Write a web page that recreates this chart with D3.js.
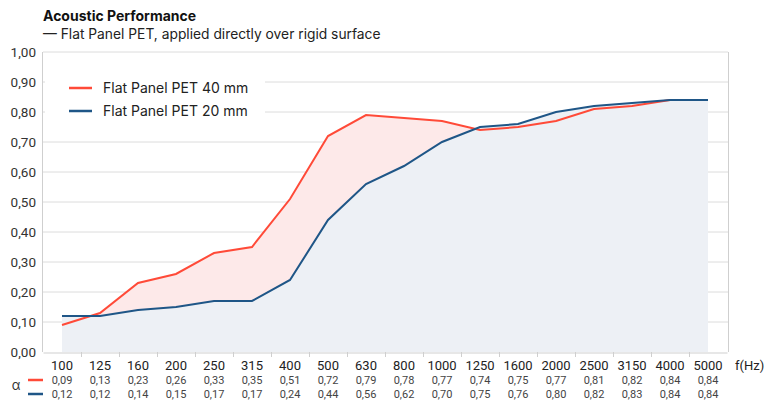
<!DOCTYPE html>
<html>
<head>
<meta charset="utf-8">
<script src="https://cdn.jsdelivr.net/npm/d3@7"></script>
<style>
  body { margin: 0; background: #fff; }
  text { font-family: Inter, "Noto Sans", sans-serif; }
  .num { font-family: Roboto, Inter, sans-serif; }
</style>
</head>
<body>
<script>
// data
const freqs = ["100","125","160","200","250","315","400","500","630","800","1000","1250","1600","2000","2500","3150","4000","5000"];
const pet40 = [0.09,0.13,0.23,0.26,0.33,0.35,0.51,0.72,0.79,0.78,0.77,0.74,0.75,0.77,0.81,0.82,0.84,0.84];
const pet20 = [0.12,0.12,0.14,0.15,0.17,0.17,0.24,0.44,0.56,0.62,0.70,0.75,0.76,0.80,0.82,0.83,0.84,0.84];
const seriesNames = ["Flat Panel PET 40 mm", "Flat Panel PET 20 mm"];
const yTicks = [0,0.1,0.2,0.3,0.4,0.5,0.6,0.7,0.8,0.9,1.0];

const red = "#ff4a38", blue = "#1f5687";
const width = 765, height = 400;
const fmt = v => v.toFixed(2).replace(".", ",");

const svg = d3.select("body").append("svg")
  .attr("width", width).attr("height", height);

const x = d3.scaleBand().domain(freqs).range([43, 727]).padding(0);
const y = d3.scaleLinear().domain([0, 1]).range([352, 52]);
const cx = d => x(d) + x.bandwidth() / 2;

// title
svg.append("text").attr("x", 43).attr("y", 21)
  .attr("font-size", 14).attr("font-weight", 700).attr("fill", "#111")
  .text("Acoustic Performance");
svg.append("text").attr("x", 43).attr("y", 38.5)
  .attr("font-size", 13.8).attr("fill", "#222")
  .text("— Flat Panel PET, applied directly over rigid surface");

// grid
svg.append("g").selectAll("line")
  .data(yTicks.slice(1))
  .enter().append("line")
    .attr("x1", 43).attr("x2", 728)
    .attr("y1", d => y(d)).attr("y2", d => y(d))
    .attr("stroke", "#dcdcdc").attr("stroke-width", 1);

// areas
const area = d3.area().x((d, i) => cx(freqs[i])).y0(y(0)).y1(d => y(d));
svg.append("path").datum(pet40).attr("d", area).attr("fill", "#fde9e9");
svg.append("path").datum(pet20).attr("d", area).attr("fill", "#edf0f5");

// lines
const line = d3.line().x((d, i) => cx(freqs[i])).y(d => y(d));
svg.append("path").datum(pet40).attr("d", line)
  .attr("fill", "none").attr("stroke", red).attr("stroke-width", 2);
svg.append("path").datum(pet20).attr("d", line)
  .attr("fill", "none").attr("stroke", blue).attr("stroke-width", 2);

// frame
svg.append("line").attr("x1", 42.5).attr("x2", 42.5).attr("y1", 52).attr("y2", 352)
  .attr("stroke", "#cfcfcf");
svg.append("line").attr("x1", 728.5).attr("x2", 728.5).attr("y1", 52).attr("y2", 352)
  .attr("stroke", "#cfcfcf");

// y axis labels
svg.append("g").selectAll("text")
  .data(yTicks)
  .enter().append("text")
    .attr("class", "num")
    .attr("x", 36).attr("y", d => y(d) + 5)
    .attr("text-anchor", "end").attr("font-size", 13.5).attr("fill", "#333")
    .text(fmt);

// x axis
const xAxis = d3.axisBottom(x).tickSize(0).tickFormat("");
svg.append("g").attr("transform", "translate(0,352.5)").call(xAxis)
  .call(g => g.select(".domain").attr("stroke", "#cfcfcf"));
svg.append("g").selectAll("line")
  .data(freqs.slice(1))
  .enter().append("line")
    .attr("x1", d => Math.round(x(d)) + 0.5).attr("x2", d => Math.round(x(d)) + 0.5)
    .attr("y1", 352).attr("y2", 357)
    .attr("stroke", "#cfcfcf");

svg.append("g").selectAll("text")
  .data(freqs)
  .enter().append("text")
    .attr("class", "num")
    .attr("x", d => cx(d)).attr("y", 370)
    .attr("text-anchor", "middle").attr("font-size", 13).attr("fill", "#222")
    .text(d => d);
svg.append("text").attr("class", "num").attr("x", 735).attr("y", 370)
  .attr("font-size", 13).attr("fill", "#222").text("f(Hz)");

// value table
svg.append("text").attr("x", 16).attr("y", 390)
  .attr("text-anchor", "middle").attr("font-size", 13).attr("fill", "#333").text("α");
[[pet40, red, 384], [pet20, blue, 398]].forEach(([vals, col, ty]) => {
  svg.append("line").attr("x1", 28).attr("x2", 43).attr("y1", ty - 4).attr("y2", ty - 4)
    .attr("stroke", col).attr("stroke-width", 2.5);
  svg.append("g").selectAll("text")
    .data(vals)
    .enter().append("text")
      .attr("class", "num")
      .attr("x", (d, i) => cx(freqs[i])).attr("y", ty)
      .attr("text-anchor", "middle").attr("font-size", 11).attr("fill", "#444")
      .text(fmt);
});

// legend
const legend = svg.append("g");
legend.append("rect").attr("x", 45).attr("y", 70).attr("width", 220).attr("height", 58)
  .attr("fill", "#fff");
[[seriesNames[0], red, 88], [seriesNames[1], blue, 111]].forEach(([name, col, ly]) => {
  legend.append("line").attr("x1", 69).attr("x2", 92).attr("y1", ly).attr("y2", ly)
    .attr("stroke", col).attr("stroke-width", 2.5);
  legend.append("text").attr("x", 103).attr("y", ly + 5)
    .attr("font-size", 14).attr("fill", "#222").text(name);
});
</script>
</body>
</html>
